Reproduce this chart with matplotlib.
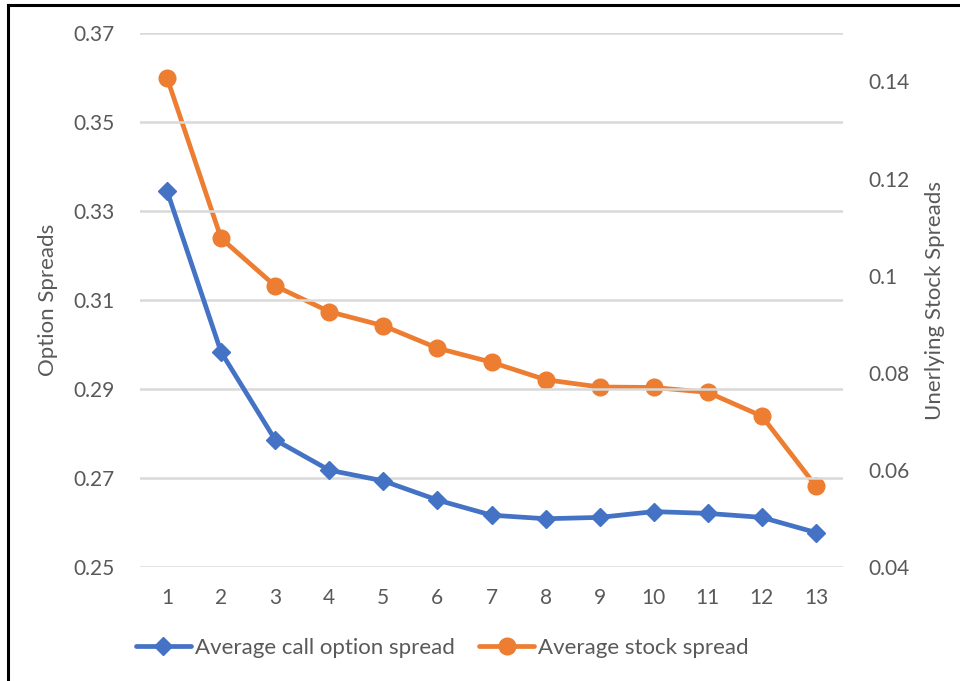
import matplotlib
matplotlib.use("Agg")
import matplotlib.pyplot as plt
from matplotlib.lines import Line2D

plt.rcParams['font.family'] = ['Lato', 'DejaVu Sans']

# spreads by bucket
buckets = list(range(1, 14))
call_spread = [0.3345, 0.2983, 0.2786, 0.2718, 0.2694, 0.2651, 0.2617,
               0.2609, 0.2612, 0.2625, 0.2621, 0.2612, 0.2578]
stock_spread = [0.1407, 0.1077, 0.0979, 0.0926, 0.0897, 0.0851, 0.0822,
                0.0786, 0.0771, 0.0770, 0.0760, 0.0711, 0.0567]

left_ticks = [0.25, 0.27, 0.29, 0.31, 0.33, 0.35, 0.37]
right_ticks = [0.04, 0.06, 0.08, 0.1, 0.12, 0.14]

blue = "#4472C4"
orange = "#ED7D31"
grey = "#595959"

W, H = 960, 681
fig = plt.figure(figsize=(W / 100, H / 100), dpi=100)
ax = fig.add_axes([140 / W, 1 - 567.3 / H, 703 / W, (567.3 - 32.7) / H])
ax2 = ax.twinx()

ax.set_zorder(2)
ax.patch.set_visible(False)

ax.plot(buckets, call_spread, color=blue, lw=3.4, marker="D", ms=9.5,
        solid_joinstyle="round", solid_capstyle="round", zorder=3)
ax2.plot(buckets, stock_spread, color=orange, lw=3.4, marker="o", ms=12,
         solid_joinstyle="round", solid_capstyle="round", zorder=3)

ax.set_xlim(0.5, 13.5)
ax.set_ylim(0.25, 0.37)
ax2.set_ylim(0.04, 0.15)

ax.set_xticks(buckets)
ax.set_xticklabels([str(b) for b in buckets])
ax.set_yticks(left_ticks)
ax.set_yticklabels(["%.2f" % v for v in left_ticks])
ax2.set_yticks(right_ticks)
ax2.set_yticklabels(["%g" % v for v in right_ticks])

for a in (ax, ax2):
    for s in a.spines.values():
        s.set_visible(False)
    a.tick_params(length=0, labelsize=15, colors=grey)
ax.tick_params(axis="y", pad=18)
ax2.tick_params(axis="y", pad=18)
ax.tick_params(axis="x", pad=15)

# gridlines follow the left axis
ax.yaxis.grid(True, color="#D9D9D9", lw=1.8)
ax.set_axisbelow(True)

ax.set_ylabel("Option Spreads", fontsize=16, color=grey, labelpad=11)
ax2.set_ylabel("Unerlying Stock Spreads", fontsize=16, color=grey, labelpad=11)

handles = [
    Line2D([], [], color=blue, lw=3.4, marker="D", ms=9.5, solid_capstyle="round"),
    Line2D([], [], color=orange, lw=3.4, marker="o", ms=12, solid_capstyle="round"),
]
fig.legend(handles, ["Average call option spread", "Average stock spread"],
           loc="center", bbox_to_anchor=(442 / W, 1 - 648 / H), ncol=2,
           frameon=False, fontsize=16, labelcolor=grey,
           handlelength=2.5, handletextpad=0.15, columnspacing=1.1)

# frame lines along the top and left edges
fig.add_artist(Line2D([8 / W, 8 / W], [0, 1 - 5 / H], color="black", lw=2.2,
                      transform=fig.transFigure))
fig.add_artist(Line2D([8 / W, 958 / W], [1 - 5 / H, 1 - 5 / H], color="black",
                      lw=2.2, transform=fig.transFigure))

fig.savefig("out.png", dpi=100)
